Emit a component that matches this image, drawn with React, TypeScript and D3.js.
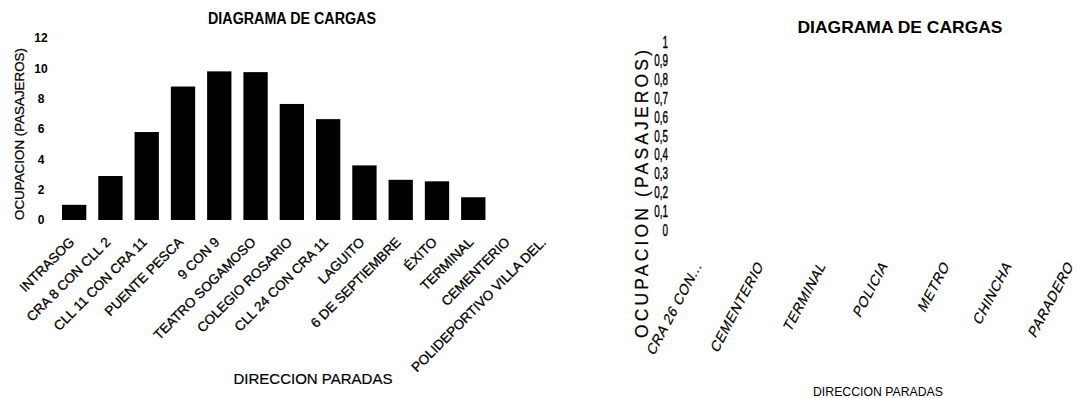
import React from 'react';
import * as d3 from 'd3';

// left chart data
const paradas = [
  'INTRASOG', 'CRA 8 CON CLL 2', 'CLL 11 CON CRA 11', 'PUENTE PESCA', '9 CON 9',
  'TEATRO SOGAMOSO', 'COLEGIO ROSARIO', 'CLL 24 CON CRA 11', 'LAGUITO',
  '6 DE SEPTIEMBRE', 'ÉXITO', 'TERMINAL', 'CEMENTERIO', 'POLIDEPORTIVO VILLA DEL.'
];
const ocupacion = [1.0, 2.9, 5.8, 8.8, 9.8, 9.75, 7.65, 6.65, 3.6, 2.65, 2.55, 1.5, 0, 0];
const yTicksLeft = [0, 2, 4, 6, 8, 10, 12];

// right chart (empty series)
const paradasVuelta = ['CRA 26 CON...', 'CEMENTERIO', 'TERMINAL', 'POLICIA', 'METRO', 'CHINCHA', 'PARADERO'];
const ocupacionVuelta: number[] = [];
const yTicksRight = [0, 0.1, 0.2, 0.3, 0.4, 0.5, 0.6, 0.7, 0.8, 0.9, 1];

const FONT = '"Liberation Sans", Arial, sans-serif';

const App = () => {
  const width = 1078;
  const height = 398;

  // left scales
  const x = d3.scaleBand<string>()
    .domain(paradas)
    .range([56, 564])
    .paddingInner(0.33)
    .paddingOuter(0.165);
  const y = d3.scaleLinear().domain([0, 12]).range([220, 38]);

  // right scales
  const xR = d3.scaleBand<string>().domain(paradasVuelta).range([674, 1108]);
  const yR = d3.scaleLinear().domain([0, 1]).range([230, 42]);

  const fmtComma = (v: number) => String(+v.toFixed(1)).replace('.', ',');

  return (
    <svg
      width={width}
      height={height}
      style={{ position: 'absolute', left: 0, top: 0, background: '#fff' }}
      fontFamily={FONT}
    >
      {/* ---------- left chart ---------- */}
      <text x={292} y={24} fontSize={16} fontWeight="bold" textAnchor="middle"
        textLength={168} lengthAdjust="spacingAndGlyphs">
        DIAGRAMA DE CARGAS
      </text>

      <text transform={`translate(24, 134) rotate(-90)`} fontSize={13.5} textAnchor="middle"
        textLength={172} lengthAdjust="spacingAndGlyphs" stroke="#000" strokeWidth={0.25}>
        OCUPACION (PASAJEROS)
      </text>

      {yTicksLeft.map(t => (
        <text key={t} x={41} y={y(t)} dy="0.35em" fontSize={12} fontWeight="bold" textAnchor="middle">
          {t}
        </text>
      ))}

      {paradas.map((p, i) => (
        <rect key={p}
          x={x(p)}
          y={y(ocupacion[i])}
          width={x.bandwidth()}
          height={y(0) - y(ocupacion[i])}
          fill="#000"
        />
      ))}

      {paradas.map(p => (
        <text key={p}
          transform={`translate(${(x(p) as number) + x.bandwidth() / 2 + 1}, 243) rotate(-45)`}
          fontSize={13.5} textAnchor="end" stroke="#000" strokeWidth={0.3}>
          {p}
        </text>
      ))}

      <text x={313} y={384} fontSize={15} textAnchor="middle" stroke="#000" strokeWidth={0.2}>
        DIRECCION PARADAS
      </text>

      {/* ---------- right chart ---------- */}
      <text x={900} y={33} fontSize={17} fontWeight="bold" textAnchor="middle"
        textLength={205} lengthAdjust="spacingAndGlyphs">
        DIAGRAMA DE CARGAS
      </text>

      <text transform={`translate(648, 194) rotate(-90)`} fontSize={17.5} textAnchor="middle"
        textLength={288} lengthAdjust="spacing" stroke="#000" strokeWidth={0.2}>
        OCUPACION (PASAJEROS)
      </text>

      {yTicksRight.map(t => (
        <text key={t} transform={`translate(668, ${yR(t)}) scale(0.62, 1)`} dy="0.35em"
          fontSize={16} textAnchor="end" stroke="#000" strokeWidth={0.4}>
          {fmtComma(t)}
        </text>
      ))}

      {ocupacionVuelta.map((v, i) => (
        <rect key={i}
          x={xR(paradasVuelta[i])}
          y={yR(v)}
          width={xR.bandwidth() * 0.6}
          height={yR(0) - yR(v)}
          fill="#000"
        />
      ))}

      {paradasVuelta.map(p => (
        <text key={p}
          transform={`translate(${(xR(p) as number) + xR.bandwidth() / 2 - 3}, 266) rotate(-62) skewX(-14)`}
          fontSize={14} letterSpacing={0.6} textAnchor="end" stroke="#000" strokeWidth={0.2}>
          {p}
        </text>
      ))}

      <text x={878} y={396} fontSize={13} textAnchor="middle"
        textLength={130} lengthAdjust="spacingAndGlyphs">
        DIRECCION PARADAS
      </text>
    </svg>
  );
};

export default App;
